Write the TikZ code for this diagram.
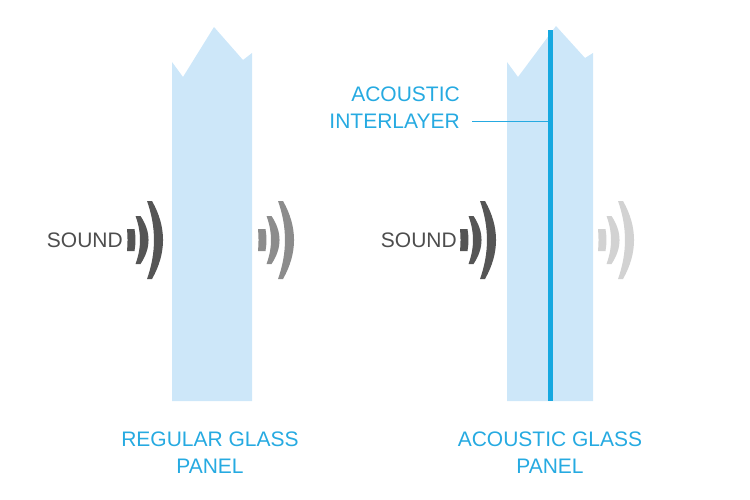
\documentclass[tikz,border=0pt]{standalone}
\usepackage{fontspec}
\setmainfont{Liberation Sans}
\usetikzlibrary{positioning}

\definecolor{glassblue}{RGB}{205,231,249}
\definecolor{layerblue}{RGB}{22,168,224}
\definecolor{textblue}{RGB}{38,170,225}
\definecolor{wavedark}{RGB}{85,85,85}
\definecolor{wavemid}{RGB}{140,140,140}
\definecolor{wavelight}{RGB}{210,210,210}
\definecolor{soundgrey}{RGB}{77,77,77}

\begin{document}
\begin{tikzpicture}[
  x=1pt, y=-1pt,
  panel/.style={fill=glassblue, draw=none},
  interlayer/.style={fill=layerblue, draw=none},
  bluetext/.style={text=textblue, inner sep=0pt, font=\fontsize{21}{27}\selectfont, align=center},
  soundtext/.style={text=soundgrey, inner sep=0pt, font=\fontsize{21}{27}\selectfont},
  leader/.style={draw=textblue, line width=0.8pt}
]
\useasboundingbox (0,0) rectangle (750,500);

%% REGULAR GLASS PANEL

  \coordinate (reg_bot) at (212,401);
  \coordinate (reg_in) at (127,240);
  \coordinate (reg_out) at (258,240);

  \fill[panel] (172,401) -- (172,62) -- (183,77) -- (214,27) -- (243,60)
    -- (252,53) -- (252,401) -- cycle;

  \node[soundtext, left=4pt of reg_in] (reg_sound) {SOUND};
  \node[bluetext, below=31pt of reg_bot, xshift=-2pt] (reg_label) {REGULAR GLASS\\PANEL};

%% ACOUSTIC GLASS PANEL

  \coordinate (aco_bot) at (550,401);
  \coordinate (aco_in) at (460,240);
  \coordinate (aco_out) at (598,240);
  \coordinate (layer_top) at (550,30);

  \fill[panel] (507,401) -- (507,62) -- (518,77) -- (556,26) -- (585,58)
    -- (593,53) -- (593,401) -- cycle;

  % Interlayer label and leader
  \node[bluetext, anchor=base east] (layer_name) at (460,102) {ACOUSTIC};
  \node[bluetext, anchor=base east] (layer_kind) at (460,129) {INTERLAYER};
  \draw[leader, shorten <=12pt] (layer_kind.east) -- (layer_kind.east -| layer_top);

  \fill[interlayer] ([xshift=-2.5pt]layer_top) rectangle ([xshift=2.5pt]aco_bot);

  \node[soundtext, left=3pt of aco_in] (aco_sound) {SOUND};
  \node[bluetext, below=31pt of aco_bot] (aco_label) {ACOUSTIC GLASS\\PANEL};

%% SOUND WAVES

  \foreach \wp/\wc in {reg_in/wavedark, reg_out/wavemid, aco_in/wavedark, aco_out/wavelight} {
    \begin{scope}[shift={(\wp)}]
      % small bar
      \fill[\wc] (7.5,-11) .. controls (8.8,-3.7) and (8.8,3.7) .. (7.5,11)
        -- (0,11) .. controls (0.7,3.7) and (0.7,-3.7) .. (0,-11) -- cycle;
      % middle arc
      \fill[\wc] (13.5,-24) .. controls (24.2,-8) and (24.2,8) .. (13.5,24)
        -- (8.5,24) .. controls (14.5,8) and (14.5,-8) .. (8.5,-24) -- cycle;
      % outer arc
      \fill[\wc] (25,-39) .. controls (39.7,-13) and (39.7,13) .. (25,39)
        -- (20,39) .. controls (29.3,13) and (29.3,-13) .. (20,-39) -- cycle;
    \end{scope}
  }

\end{tikzpicture}
\end{document}
